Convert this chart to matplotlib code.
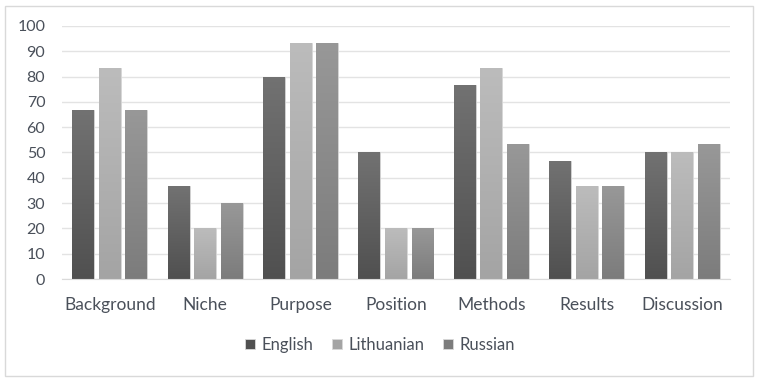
import numpy as np
import matplotlib.pyplot as plt
from matplotlib.patches import Rectangle
from matplotlib.colors import LinearSegmentedColormap

categories = ['Background', 'Niche', 'Purpose', 'Position', 'Methods', 'Results', 'Discussion']
english = [66.7, 36.7, 80, 50, 76.7, 46.7, 50]
lithuanian = [83.3, 20, 93.3, 20, 83.3, 36.7, 50]
russian = [66.7, 30, 93.3, 20, 53.3, 36.7, 53.3]
series = ['English', 'Lithuanian', 'Russian']

# top / bottom shades of each series' gradient
shades = [('#727272', '#505050'), ('#bcbcbc', '#a4a4a4'), ('#989898', '#7c7c7c')]
text_col = '#4a505a'

plt.rcParams['font.family'] = ['Lato', 'DejaVu Sans']

fig = plt.figure(figsize=(7.6, 3.82), dpi=100)
ax = fig.add_axes([0.0816, 0.2696, 0.8789, 0.6624])

x = np.arange(len(categories))
w = 0.23
step = 0.278
grad = np.linspace(0, 1, 256).reshape(-1, 1)

for i, (name, vals) in enumerate(zip(series, [english, lithuanian, russian])):
    top, bot = shades[i]
    cmap = LinearSegmentedColormap.from_list(name, [bot, top])
    bars = ax.bar(x + (i - 1) * step, vals, w, color=shades[i][1], edgecolor='#d9d9d9',
                  linewidth=0.6, label=name, zorder=2)
    for b in bars:
        x0, y0 = b.get_x(), b.get_y()
        im = ax.imshow(grad, cmap=cmap, origin='lower', aspect='auto',
                       extent=[x0, x0 + b.get_width(), y0, y0 + b.get_height()], zorder=2.5)
        im.set_clip_path(b)

ax.set_xlim(-0.5, len(categories) - 0.5)
ax.set_ylim(0, 100)
ax.set_yticks(range(0, 101, 10))
ax.set_xticks(x)
ax.set_xticklabels(categories)
ax.yaxis.grid(True, color='#e3e3e3', linewidth=1, zorder=0)
ax.set_axisbelow(True)
for s in ['top', 'right', 'left']:
    ax.spines[s].set_visible(False)
ax.spines['bottom'].set_color('#dadada')
ax.tick_params(axis='both', length=0, colors=text_col, labelsize=11.5)
ax.tick_params(axis='x', pad=13, labelsize=12.5)
ax.tick_params(axis='y', pad=12)

leg = fig.legend(loc='center', bbox_to_anchor=(0.5, 0.097), ncol=3, frameon=False,
                 handlelength=0.6, handleheight=0.6, handletextpad=0.4, columnspacing=1.1,
                 fontsize=12, labelcolor=text_col)

fig.patches.append(Rectangle((0.006, 0.015), 0.985, 0.97, transform=fig.transFigure,
                             fill=False, edgecolor='#d9d9d9', linewidth=1))

fig.savefig('out.png', dpi=100)
